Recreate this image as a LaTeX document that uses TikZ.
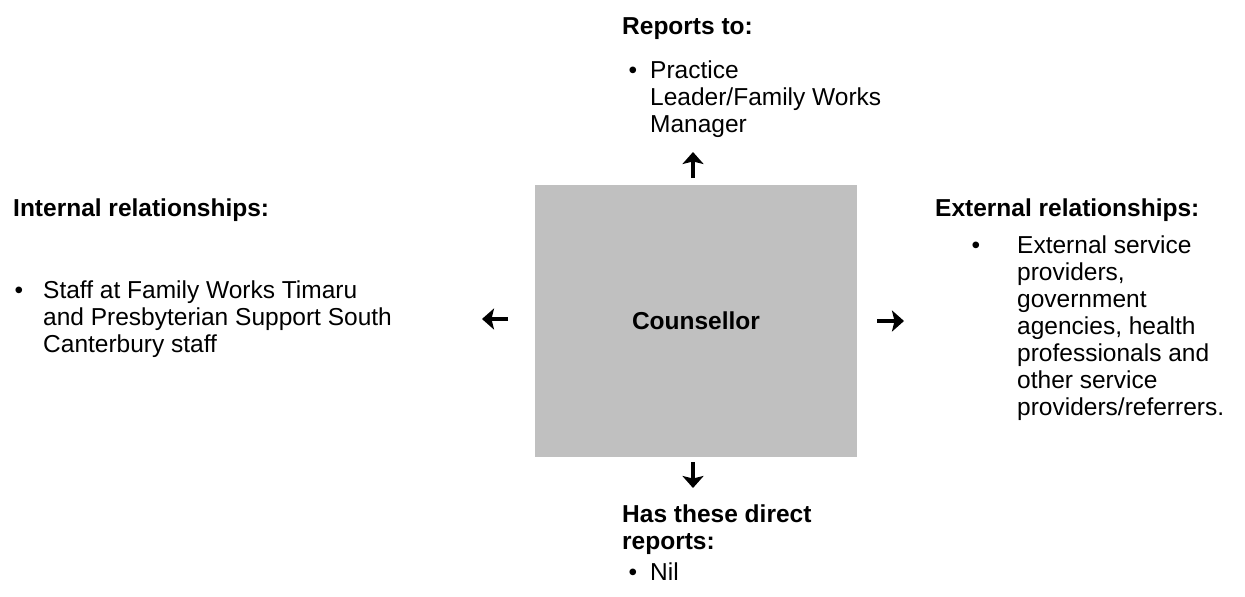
\documentclass[tikz,border=0pt]{standalone}
\usepackage{fontspec}
\setmainfont{Liberation Sans}
\usepackage{xcolor}
\usetikzlibrary{arrows.meta}

\definecolor{boxgrey}{RGB}{192,192,192}
\newcommand{\bodyfont}{\fontsize{24.5}{27}\selectfont}

\tikzset{
  heading/.style={anchor=north west, inner sep=0pt, align=left, font=\bodyfont\bfseries},
  listtext/.style={anchor=north west, inner sep=0pt, align=left, font=\bodyfont},
  listdot/.style={anchor=base, inner sep=0pt, font=\bodyfont},
  rolebox/.style={fill=boxgrey, minimum width=322pt, minimum height=272pt, inner sep=0pt, font=\bodyfont\bfseries},
  wingarrow/.style={line width=4pt, -{Stealth[length=12pt,width=21pt,inset=2.5pt]}}
}

\begin{document}
\begin{tikzpicture}[x=1pt, y=-1pt]
  \useasboundingbox (0,0) rectangle (1245,597);

  % Role box
  \node[rolebox] (counsellor) at (696,321) {Counsellor};

  % Reports to
  \node[heading] (reportshead) at (622,17.5) {Reports to:};
  \node[listdot] (reportsdot) at (633,78) {•};
  \node[listtext] (reportslist) at (650,60.5) {Practice\\Leader/Family Works\\Manager};

  % Internal relationships
  \node[heading] (internalhead) at (13,198.5) {Internal relationships:};
  \node[listdot] (internaldot) at (19,298) {•};
  \node[listtext] (internallist) at (43,280.5) {Staff at Family Works Timaru\\and Presbyterian Support South\\Canterbury staff};

  % External relationships
  \node[heading] (externalhead) at (935,198.5) {External relationships:};
  \node[listdot] (externaldot) at (976,253) {•};
  \node[listtext] (externallist) at (1017,235.5) {External service\\providers,\\government\\agencies, health\\professionals and\\other service\\providers/referrers.};

  % Direct reports
  \node[heading] (directhead) at (622,504.5) {Has these direct\\reports:};
  \node[listdot] (directdot) at (633,580) {•};
  \node[listtext] (directlist) at (650,562.5) {Nil};

  % Arrows
  \coordinate (upfrom) at (693,178);
  \coordinate (upto) at (693,152);
  \coordinate (downfrom) at (693,462);
  \coordinate (downto) at (693,488);
  \coordinate (leftfrom) at (508,319);
  \coordinate (leftto) at (482,319);
  \coordinate (rightfrom) at (877,321);
  \coordinate (rightto) at (904,321);
  \draw[wingarrow] (upfrom) -- (upto);
  \draw[wingarrow] (downfrom) -- (downto);
  \draw[wingarrow] (leftfrom) -- (leftto);
  \draw[wingarrow] (rightfrom) -- (rightto);
\end{tikzpicture}
\end{document}
